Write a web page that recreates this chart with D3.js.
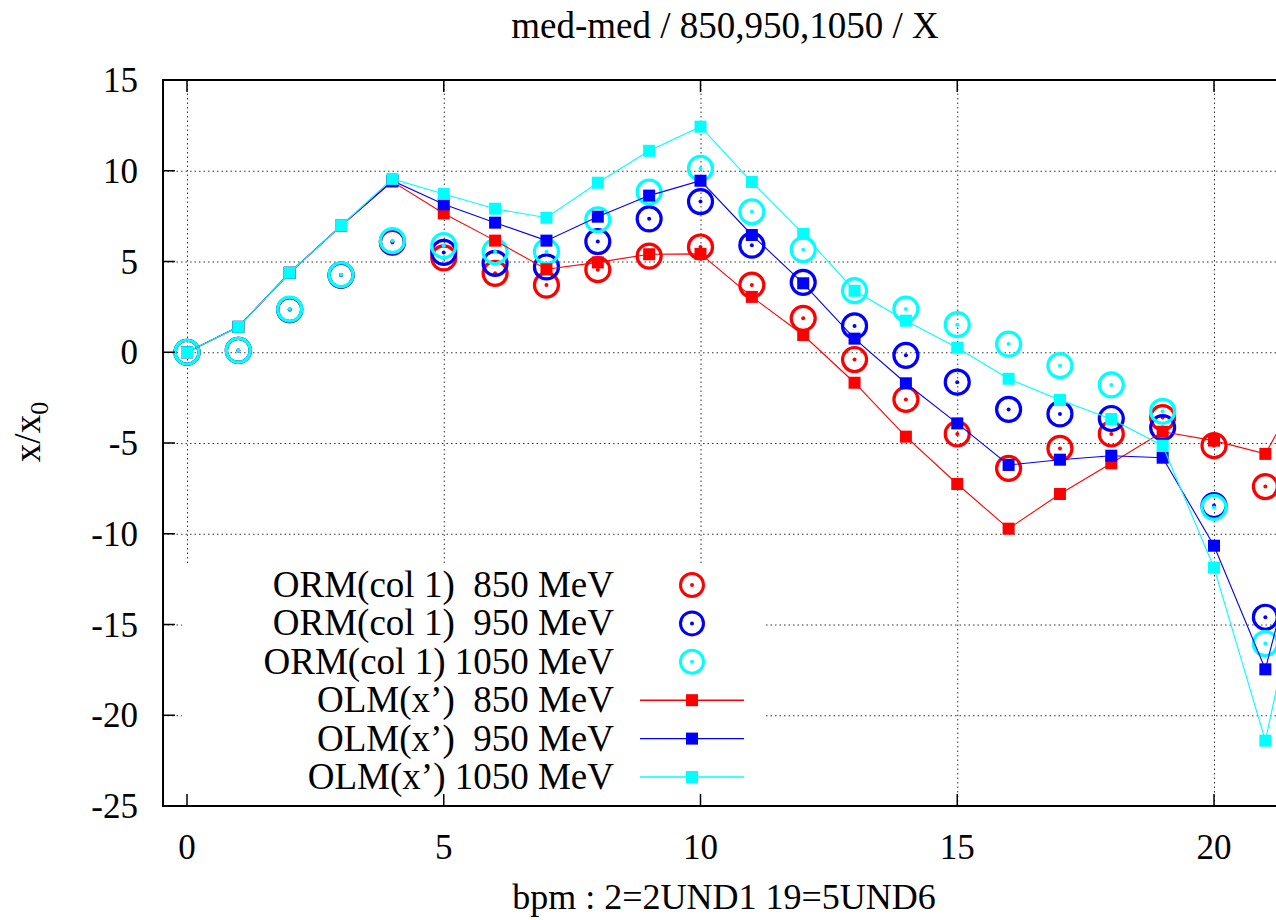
<!DOCTYPE html>
<html>
<head>
<meta charset="utf-8">
<script src="https://cdn.jsdelivr.net/npm/d3@7"></script>
<style>
  html, body { margin: 0; padding: 0; background: #fff; }
  svg { display: block; }
  text { font-family: "Liberation Serif", "Times New Roman", serif; fill: #000; }
</style>
</head>
<body>
<script>
// ---------- data ----------
const bpmIndex = d3.range(0, 23);
const xTicks = [0, 5, 10, 15, 20];
const yTicks = [15, 10, 5, 0, -5, -10, -15, -20, -25];

const orm850  = [0, 0.1, 2.35, 4.25, 6.05, 5.2, 4.35, 3.7, 4.55, 5.3, 5.8, 3.7, 1.87, -0.4, -2.6, -4.5, -6.4, -5.3, -4.5, -3.6, -5.15, -7.4];
const orm950  = [0, 0.1, 2.35, 4.25, 6.1, 5.5, 4.9, 4.7, 6.1, 7.35, 8.3, 5.9, 3.85, 1.45, -0.17, -1.65, -3.15, -3.4, -3.65, -4.15, -8.45, -14.6];
const orm1050 = [0, 0.1, 2.38, 4.27, 6.15, 5.87, 5.54, 5.54, 7.3, 8.83, 10.13, 7.74, 5.65, 3.39, 2.38, 1.52, 0.45, -0.74, -1.8, -3.25, -8.55, -16.05];

const olm850  = [0, 1.4, 4.38, 6.97, 9.4, 7.65, 6.15, 4.57, 4.95, 5.4, 5.42, 3.05, 0.95, -1.68, -4.65, -7.26, -9.72, -7.81, -6.12, -4.38, -4.87, -5.6, -0.5];
const olm950  = [0, 1.4, 4.38, 6.97, 9.45, 8.15, 7.14, 6.15, 7.47, 8.63, 9.45, 6.46, 3.8, 0.75, -1.71, -3.92, -6.21, -5.92, -5.7, -5.81, -10.66, -17.47, -6.5];
const olm1050 = [0, 1.4, 4.38, 6.97, 9.55, 8.72, 7.91, 7.41, 9.34, 11.1, 12.43, 9.38, 6.52, 3.39, 1.74, 0.25, -1.46, -2.63, -3.68, -5.15, -11.87, -21.4, -8.3];

const ormSeries = [
  { label: "ORM(col 1)  850 MeV", values: orm850,  color: "#ff0000" },
  { label: "ORM(col 1)  950 MeV", values: orm950,  color: "#0000ff" },
  { label: "ORM(col 1) 1050 MeV", values: orm1050, color: "#00ffff" }
];
const olmSeries = [
  { label: "OLM(x’)  850 MeV", values: olm850,  color: "#ff0000" },
  { label: "OLM(x’)  950 MeV", values: olm950,  color: "#0000ff" },
  { label: "OLM(x’) 1050 MeV", values: olm1050, color: "#00ffff" }
];

const titleText = "med-med / 850,950,1050 / X";
const xLabelText = "bpm : 2=2UND1 19=5UND6";

// ---------- layout ----------
const W = 1276, H = 920;
const x = d3.scaleLinear().domain([0, 20]).range([187, 1214]);
const y = d3.scaleLinear().domain([-25, 15]).range([806, 80]);
const pL = x(-0.467), pR = 1320, pT = y(15), pB = y(-25);

const svg = d3.select("body").append("svg").attr("width", W).attr("height", H);
svg.append("rect").attr("width", W).attr("height", H).attr("fill", "#fff");

svg.append("defs").append("clipPath").attr("id", "plotclip")
  .append("rect").attr("x", pL).attr("y", pT).attr("width", pR - pL).attr("height", pB - pT);

// grid
const grid = svg.append("g").attr("stroke", "#333").attr("stroke-width", 1).attr("stroke-dasharray", "1.5,3");
grid.selectAll("line.gx").data(xTicks).join("line")
  .attr("x1", d => x(d) + 0.5).attr("x2", d => x(d) + 0.5).attr("y1", pT).attr("y2", pB);
grid.selectAll("line.gy").data(yTicks.filter(d => d !== 15 && d !== -25)).join("line")
  .attr("x1", pL).attr("x2", pR).attr("y1", d => y(d) + 0.5).attr("y2", d => y(d) + 0.5);

// data
const plot = svg.append("g").attr("clip-path", "url(#plotclip)");

ormSeries.forEach(s => {
  const g = plot.append("g");
  g.selectAll("circle.ring").data(s.values).join("circle")
    .attr("cx", (d, i) => x(bpmIndex[i])).attr("cy", d => y(d)).attr("r", 12)
    .attr("fill", "none").attr("stroke", s.color).attr("stroke-width", 3.2);
  g.selectAll("circle.dot").data(s.values).join("circle")
    .attr("cx", (d, i) => x(bpmIndex[i])).attr("cy", d => y(d)).attr("r", 2)
    .attr("fill", s.color);
});

const line = d3.line().x((d, i) => x(bpmIndex[i])).y(d => y(d));
olmSeries.forEach(s => {
  const g = plot.append("g");
  g.append("path").datum(s.values).attr("d", line)
    .attr("fill", "none").attr("stroke", s.color).attr("stroke-width", 1.1);
  g.selectAll("rect").data(s.values).join("rect")
    .attr("x", (d, i) => x(bpmIndex[i]) - 6).attr("y", d => y(d) - 6)
    .attr("width", 12).attr("height", 12).attr("fill", s.color);
});

// legend (opaque box)
const lg = svg.append("g");
lg.append("rect").attr("x", 182).attr("y", 566).attr("width", 764 - 182).attr("height", pB - 566).attr("fill", "#fff");
const rowY = i => 585 + i * 38.4;
const allSeries = ormSeries.concat(olmSeries);
allSeries.forEach((s, i) => {
  lg.append("text").attr("x", 614).attr("y", rowY(i) + 12)
    .attr("text-anchor", "end").attr("font-size", 37)
    .style("white-space", "pre").text(s.label);
  if (i < 3) {
    lg.append("circle").attr("cx", 692).attr("cy", rowY(i)).attr("r", 11.5)
      .attr("fill", "none").attr("stroke", s.color).attr("stroke-width", 3);
    lg.append("circle").attr("cx", 692).attr("cy", rowY(i)).attr("r", 2).attr("fill", s.color);
  } else {
    lg.append("line").attr("x1", 640).attr("x2", 744).attr("y1", rowY(i)).attr("y2", rowY(i))
      .attr("stroke", s.color).attr("stroke-width", 1.4);
    lg.append("rect").attr("x", 686).attr("y", rowY(i) - 6).attr("width", 12).attr("height", 12).attr("fill", s.color);
  }
});

// border
const border = svg.append("g").attr("stroke", "#000").attr("fill", "none");
border.append("line").attr("x1", pL).attr("x2", pR).attr("y1", pT).attr("y2", pT).attr("stroke-width", 2);
border.append("line").attr("x1", pL).attr("x2", pR).attr("y1", pB).attr("y2", pB).attr("stroke-width", 2);
border.append("line").attr("x1", pL).attr("x2", pL).attr("y1", pT - 1).attr("y2", pB + 1).attr("stroke-width", 2);

// ticks
border.selectAll("line.ty").data(yTicks).join("line")
  .attr("x1", pL).attr("x2", pL + 12).attr("y1", d => y(d)).attr("y2", d => y(d)).attr("stroke-width", 1.5);
border.selectAll("line.tb").data(xTicks).join("line")
  .attr("x1", d => x(d)).attr("x2", d => x(d)).attr("y1", pB).attr("y2", pB - 12).attr("stroke-width", 1.5);
border.selectAll("line.tt").data(xTicks).join("line")
  .attr("x1", d => x(d)).attr("x2", d => x(d)).attr("y1", pT).attr("y2", pT + 12).attr("stroke-width", 1.5);

// tick labels
svg.append("g").selectAll("text").data(yTicks).join("text")
  .attr("x", 138).attr("y", d => y(d) + 12).attr("text-anchor", "end").attr("font-size", 35)
  .text(d => String(d));
svg.append("g").selectAll("text").data(xTicks).join("text")
  .attr("x", d => x(d)).attr("y", 859).attr("text-anchor", "middle").attr("font-size", 35)
  .text(d => String(d));

// titles
svg.append("text").attr("x", 725).attr("y", 38).attr("text-anchor", "middle").attr("font-size", 37).text(titleText);
svg.append("text").attr("x", 724).attr("y", 909).attr("text-anchor", "middle").attr("font-size", 36).text(xLabelText);
const yl = svg.append("text").attr("transform", "translate(40,432) rotate(-90)")
  .attr("text-anchor", "middle").attr("font-size", 37);
yl.append("tspan").text("x/x");
yl.append("tspan").attr("font-size", 26).attr("dy", 8).text("0");
</script>
</body>
</html>
